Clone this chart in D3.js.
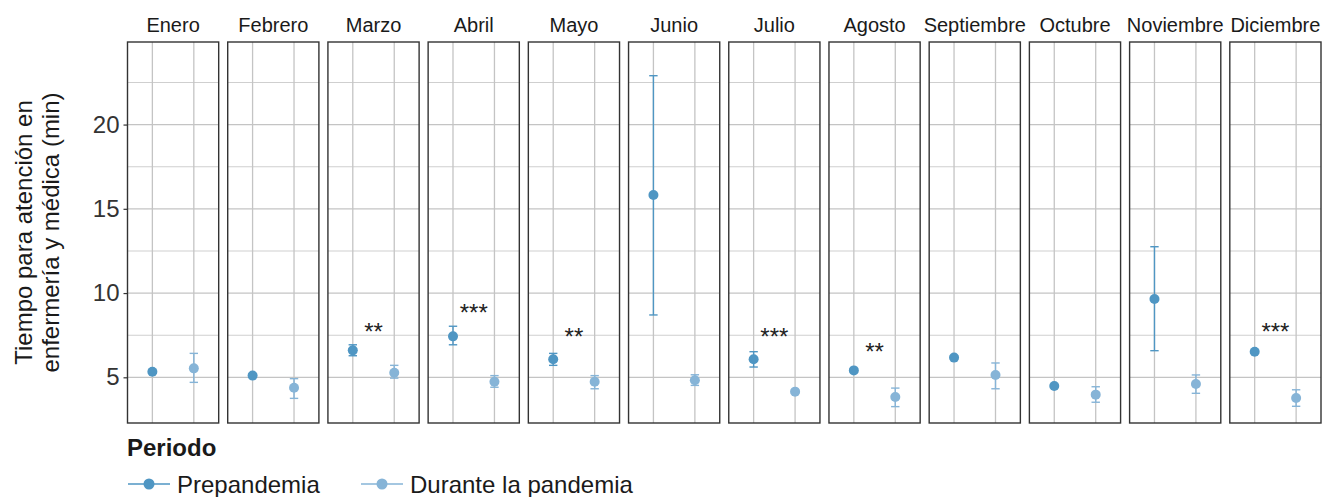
<!DOCTYPE html>
<html>
<head>
<meta charset="utf-8">
<script src="https://cdn.jsdelivr.net/npm/d3@7"></script>
<style>
  body { margin: 0; background: #fff; }
  svg { font-family: "Liberation Sans", Arial, sans-serif; }
</style>
</head>
<body>
<div id="chart"></div>
<script>
// data
const months = ["Enero", "Febrero", "Marzo", "Abril", "Mayo", "Junio", "Julio",
  "Agosto", "Septiembre", "Octubre", "Noviembre", "Diciembre"]
const periods = ["Prepandemia", "Durante la pandemia"]

const preMean = [5.33, 5.10, 6.60, 7.43, 6.07, 15.82, 6.07, 5.41, 6.17, 4.48, 9.65, 6.52]
const preLow  = [5.25, 5.03, 6.28, 6.93, 5.71, 8.70, 5.61, 5.35, 6.10, 4.42, 6.58, 6.46]
const preHigh = [5.41, 5.17, 6.93, 8.03, 6.42, 22.90, 6.52, 5.47, 6.24, 4.54, 12.75, 6.58]

const durMean = [5.53, 4.38, 5.27, 4.74, 4.74, 4.82, 4.15, 3.83, 5.14, 3.97, 4.60, 3.77]
const durLow  = [4.70, 3.75, 4.95, 4.41, 4.32, 4.52, 4.08, 3.26, 4.32, 3.52, 4.05, 3.28]
const durHigh = [6.42, 4.92, 5.71, 5.10, 5.10, 5.15, 4.22, 4.36, 5.85, 4.44, 5.14, 4.26]

// significance labels and their height (min)
const sigLabel = ["", "", "**", "***", "**", "", "***", "**", "", "", "", "***"]
const sigY     = [0, 0, 8.06, 9.15, 7.75, 0, 7.75, 6.86, 0, 0, 0, 8.06]

const yTicks = [5, 10, 15, 20]
const yMinor = [7.5, 12.5, 17.5, 22.5]

const colors = { "Prepandemia": "#4f96c3", "Durante la pandemia": "#86b4d7" }

const width = 1323, height = 497
const plotTop = 42, plotBottom = 423

const svg = d3.select("#chart").append("svg")
  .attr("width", width)
  .attr("height", height)

const panel = d3.scaleBand().domain(months).range([127.5, 1321]).paddingInner(0.09)
const x = d3.scalePoint().domain(periods).range([0, panel.bandwidth()]).padding(0.6)
const y = d3.scaleLinear().domain([2.288, 24.9]).range([plotBottom, plotTop])

const rows = months.map((m, i) => ({
  month: m,
  sig: sigLabel[i],
  sigY: sigY[i],
  pts: [
    { period: periods[0], mean: preMean[i], low: preLow[i], high: preHigh[i] },
    { period: periods[1], mean: durMean[i], low: durLow[i], high: durHigh[i] },
  ]
}))

const g = svg.append("g").selectAll("g")
  .data(rows)
  .join("g")
  .attr("transform", d => `translate(${panel(d.month)},0)`)

// grid
g.each(function () {
  const p = d3.select(this)
  p.selectAll(".minor").data(yMinor).join("line")
    .attr("x1", 0).attr("x2", panel.bandwidth())
    .attr("y1", d => y(d)).attr("y2", d => y(d))
    .attr("stroke", "#cfcfcf").attr("stroke-width", 1.1)
  p.selectAll(".major").data(yTicks).join("line")
    .attr("x1", 0).attr("x2", panel.bandwidth())
    .attr("y1", d => y(d)).attr("y2", d => y(d))
    .attr("stroke", "#c4c4c4").attr("stroke-width", 1.3)
  p.selectAll(".vgrid").data(periods).join("line")
    .attr("x1", d => x(d)).attr("x2", d => x(d))
    .attr("y1", plotTop).attr("y2", plotBottom)
    .attr("stroke", "#c4c4c4").attr("stroke-width", 1.3)
})

// error bars + points
const pt = g.selectAll(".pt")
  .data(d => d.pts)
  .join("g")
  .attr("fill", d => colors[d.period])
  .attr("stroke", d => colors[d.period])

pt.append("line")
  .attr("x1", d => x(d.period)).attr("x2", d => x(d.period))
  .attr("y1", d => y(d.low)).attr("y2", d => y(d.high))
  .attr("stroke-width", 1.4)
pt.selectAll(".cap").data(d => [d.low, d.high].map(v => ({ v, p: d.period }))).join("line")
  .attr("x1", d => x(d.p) - 4.2).attr("x2", d => x(d.p) + 4.2)
  .attr("y1", d => y(d.v)).attr("y2", d => y(d.v))
  .attr("stroke-width", 1.4)
pt.append("circle")
  .attr("cx", d => x(d.period)).attr("cy", d => y(d.mean))
  .attr("r", 5).attr("stroke", "none")

// significance
g.filter(d => d.sig).append("text")
  .attr("x", panel.bandwidth() / 2)
  .attr("y", d => y(d.sigY) + 13.8)
  .attr("text-anchor", "middle")
  .attr("font-size", 24)
  .attr("fill", "#222")
  .text(d => d.sig)

// panel border
g.append("rect")
  .attr("x", 0).attr("y", plotTop)
  .attr("width", panel.bandwidth()).attr("height", plotBottom - plotTop)
  .attr("fill", "none").attr("stroke", "#333").attr("stroke-width", 1.4)

// strip labels
g.append("text")
  .attr("x", panel.bandwidth() / 2)
  .attr("y", 32)
  .attr("text-anchor", "middle")
  .attr("font-size", 20)
  .attr("fill", "#1a1a1a")
  .text(d => d.month)

// y axis
const yAxis = svg.append("g")
  .attr("transform", `translate(${panel(months[0])},0)`)
  .call(d3.axisLeft(y).tickValues(yTicks).tickSize(4).tickPadding(4))
yAxis.select(".domain").remove()
yAxis.selectAll(".tick line").attr("stroke", "#333").attr("stroke-width", 1.2)
yAxis.selectAll(".tick text")
  .attr("font-size", 24)
  .attr("font-family", "Liberation Sans, Arial, sans-serif")
  .attr("fill", "#333")

const yt = svg.append("text")
  .attr("transform", `translate(0,${(plotTop + plotBottom) / 2}) rotate(-90)`)
  .attr("text-anchor", "middle")
  .attr("font-size", 24)
  .attr("fill", "#1a1a1a")
yt.append("tspan").attr("x", 0).attr("y", 32).text("Tiempo para atención en")
yt.append("tspan").attr("x", 0).attr("y", 58.5).text("enfermería y médica (min)")

// legend
svg.append("text")
  .attr("x", 127).attr("y", 456)
  .attr("font-size", 24).attr("font-weight", "bold")
  .attr("fill", "#1a1a1a")
  .text("Periodo")

const legX = [128, 361]
const leg = svg.append("g").selectAll("g")
  .data(periods)
  .join("g")
  .attr("transform", (d, i) => `translate(${legX[i]},484)`)
leg.append("line")
  .attr("x1", 0).attr("x2", 42)
  .attr("stroke", d => colors[d]).attr("stroke-width", 1.4)
leg.append("circle")
  .attr("cx", 21).attr("r", 5.5)
  .attr("fill", d => colors[d])
leg.append("text")
  .attr("x", 49).attr("dy", "0.36em")
  .attr("font-size", 24).attr("fill", "#1a1a1a")
  .text(d => d)
</script>
</body>
</html>
